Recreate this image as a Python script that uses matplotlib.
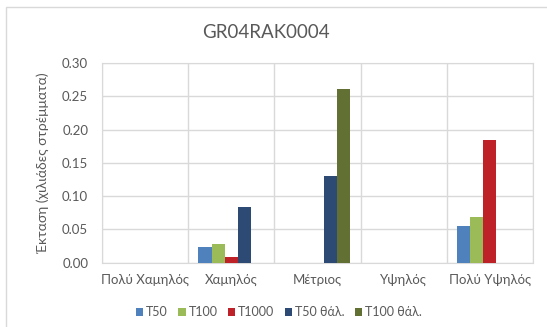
import matplotlib.pyplot as plt
import numpy as np
from matplotlib.patches import Rectangle

plt.rcParams['font.family'] = ['Lato', 'Noto Sans', 'DejaVu Sans']

categories = ['Πολύ Χαμηλός', 'Χαμηλός', 'Μέτριος', 'Υψηλός', 'Πολύ Υψηλός']
series_names = ['T50', 'T100', 'T1000', 'T50 θάλ.', 'T100 θάλ.']
t50 = [0, 0.023, 0, 0, 0.055]
t100 = [0, 0.028, 0, 0, 0.069]
t1000 = [0, 0.009, 0, 0, 0.185]
t50_sea = [0, 0.084, 0.130, 0, 0]
t100_sea = [0, 0, 0.261, 0, 0]
colors = ['#4F81BD', '#9BBB59', '#BE2127', '#2C4A74', '#627133']
yticks = [0.00, 0.05, 0.10, 0.15, 0.20, 0.25, 0.30]

series = [t50, t100, t1000, t50_sea, t100_sea]

fig = plt.figure(figsize=(5.47, 3.27), dpi=100)
ax = fig.add_axes([0.1865, 0.197, 0.7879, 0.61])

# chart border like the excel chart area
fig.patches.append(Rectangle((6 / 547, -0.05), 1.1, (327 - 7) / 327 + 0.05,
                             transform=fig.transFigure, fill=False,
                             edgecolor='#D9D9D9', linewidth=1.0))

x = np.arange(len(categories))
bw = 0.153
for i, (vals, name) in enumerate(zip(series, series_names)):
    ax.bar(x + (i - 2) * bw, vals, width=bw, color=colors[i], label=name, zorder=3)

ax.set_xlim(-0.5, len(categories) - 0.5)
ax.set_ylim(0, 0.30)
ax.set_yticks(yticks)
ax.set_yticklabels(['%.2f' % v for v in yticks])
ax.set_xticks(x)
ax.set_xticklabels(categories)
ax.set_xticks(np.arange(-0.5, len(categories)), minor=True)
ax.grid(True, axis='y', color='#D9D9D9', linewidth=1.0, zorder=0)
ax.grid(True, axis='x', which='minor', color='#D9D9D9', linewidth=1.0, zorder=0)
ax.tick_params(axis='both', which='both', length=0, labelsize=9.5, colors='#595959')
ax.tick_params(axis='x', pad=8)
ax.tick_params(axis='y', pad=10)
for s in ax.spines.values():
    s.set_color('#D9D9D9')

ax.set_ylabel('Έκταση (χιλιάδες στρέμματα)', fontsize=10, color='#595959', labelpad=9)
fig.text(266 / 547, 1 - 33 / 327, 'GR04RAK0004', ha='center', va='center',
         fontsize=13.5, color='#595959')

fig.legend(loc='center', bbox_to_anchor=(279 / 547, 1 - 312 / 327), ncol=5,
           frameon=False, fontsize=9, handlelength=0.6, handleheight=0.6,
           handletextpad=0.25, columnspacing=0.8, labelcolor='#595959')

fig.savefig('out.png', dpi=100)
